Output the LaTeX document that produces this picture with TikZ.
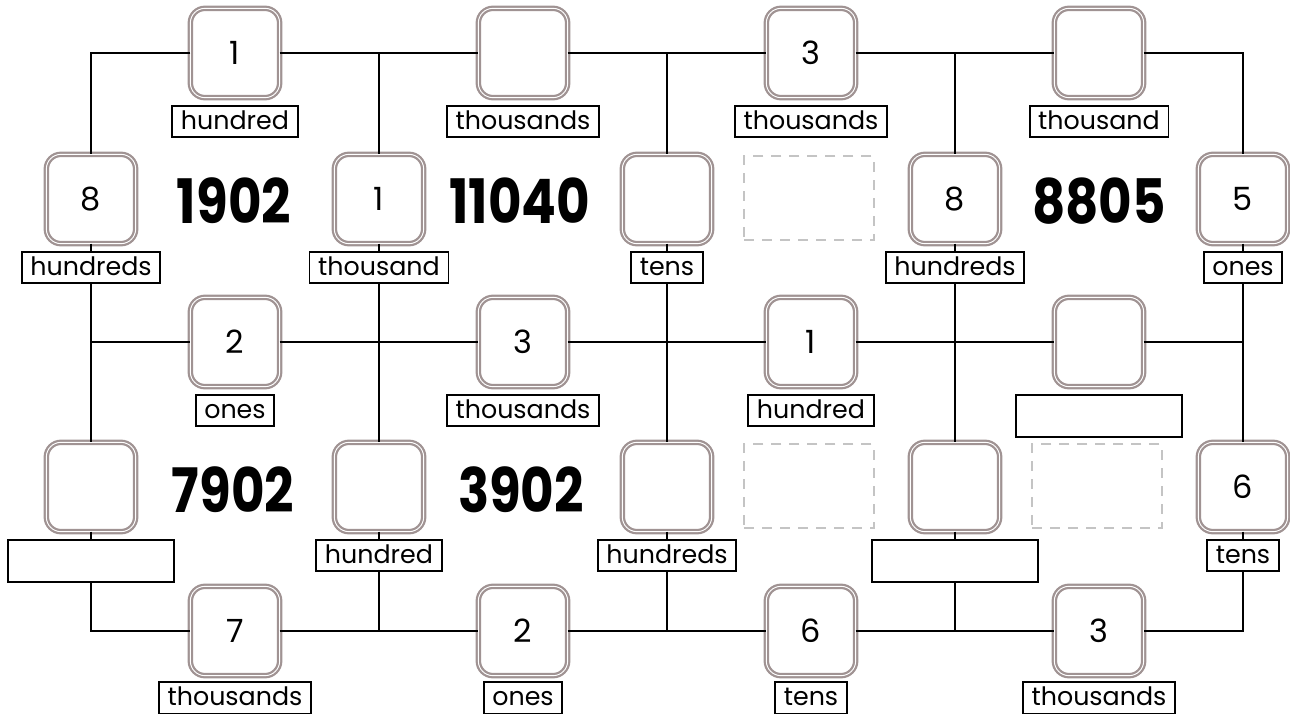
\documentclass[tikz,border=0pt]{standalone}
\usepackage{fontspec}
\setmainfont{Poppins}
\usetikzlibrary{positioning}
\definecolor{boxgray}{RGB}{160,147,147}
\definecolor{dashgray}{RGB}{196,196,196}
\newcommand{\bignum}[1]{\scalebox{0.84}[1]{#1}}

\begin{document}
\begin{tikzpicture}[x=0.75pt,y=-0.75pt,
  digit/.style={draw=boxgray,double=white,line width=1.7pt,double distance=0.7pt,
    rounded corners=11pt,fill=white,minimum size=67pt,inner sep=0pt,outer sep=0pt,
    font=\fontsize{24}{24}\selectfont},
  word/.style={draw,line width=1.4pt,fill=white,inner xsep=6.5pt,inner ysep=0pt,
    outer sep=0pt,minimum height=23.4pt,text height=14pt,text depth=2pt,
    font=\fontsize{19}{19}\selectfont},
  blank/.style={word,minimum width=125pt,minimum height=31.5pt},
  gap/.style={draw=dashgray,line width=1.5pt,dash pattern=on 7.5pt off 6pt,
    minimum width=97.5pt,minimum height=62.5pt},
  number/.style={font=\fontsize{46}{46}\selectfont\bfseries,inner sep=0pt},
  grid/.style={line width=1.5pt}]
\useasboundingbox (0,0) rectangle (1290,717);
% top row
\node[digit] (a1) at (235,53) {1};
\node[word,below=6pt of a1] (a1w) {hundred};
\node[digit] (a2) at (523,53) {};
\node[word,below=6pt of a2] (a2w) {thousands};
\node[digit] (a3) at (811,53) {3};
\node[word,below=6pt of a3] (a3w) {thousands};
\node[digit] (a4) at (1099,53) {};
\node[word,below=6pt of a4] (a4w) {thousand};
% second row
\node[digit] (b0) at (91,199) {8};
\node[word,below=6pt of b0] (b0w) {hundreds};
\node[digit] (b1) at (379,199) {1};
\node[word,below=6pt of b1] (b1w) {thousand};
\node[digit] (b2) at (667,199) {};
\node[word,below=6pt of b2] (b2w) {tens};
\node[digit] (b3) at (955,199) {8};
\node[word,below=6pt of b3] (b3w) {hundreds};
\node[digit] (b4) at (1243,199) {5};
\node[word,below=6pt of b4] (b4w) {ones};
\node[number] (numB1) at (234,201) {\bignum{1902}};
\node[number] (numB2) at (520,201) {\bignum{11040}};
\node[gap] (gapB3) at (809,198) {};
\node[number] (numB4) at (1099,201) {\bignum{8805}};
% middle row
\node[digit] (c1) at (235,342) {2};
\node[word,below=6pt of c1] (c1w) {ones};
\node[digit] (c2) at (523,342) {3};
\node[word,below=6pt of c2] (c2w) {thousands};
\node[digit] (c3) at (811,342) {1};
\node[word,below=6pt of c3] (c3w) {hundred};
\node[digit] (c4) at (1099,342) {};
\node[blank,below=6pt of c4] (c4w) {};
% fourth row
\node[digit] (d0) at (91,487) {};
\node[blank,below=6pt of d0] (d0w) {};
\node[digit] (d1) at (379,487) {};
\node[word,below=6pt of d1] (d1w) {hundred};
\node[digit] (d2) at (667,487) {};
\node[word,below=6pt of d2] (d2w) {hundreds};
\node[digit] (d3) at (955,487) {};
\node[blank,below=6pt of d3] (d3w) {};
\node[digit] (d4) at (1243,487) {6};
\node[word,below=6pt of d4] (d4w) {tens};
\node[number] (numD1) at (233,490) {\bignum{7902}};
\node[number] (numD2) at (521,490) {\bignum{3902}};
\node[gap] (gapD3) at (809,486) {};
\node[gap] (gapD4) at (1097,486) {};
% bottom row
\node[digit] (e1) at (235,631) {7};
\node[word,below=5pt of e1] (e1w) {thousands};
\node[digit] (e2) at (523,631) {2};
\node[word,below=5pt of e2] (e2w) {ones};
\node[digit] (e3) at (811,631) {6};
\node[word,below=5pt of e3] (e3w) {tens};
\node[digit] (e4) at (1099,631) {3};
\node[word,below=5pt of e4] (e4w) {thousands};
% grid corners and junctions
\coordinate (tl) at (91,53);
\coordinate (tr) at (1243,53);
\coordinate (ml) at (91,342);
\coordinate (mr) at (1243,342);
\coordinate (bl) at (91,631);
\coordinate (br) at (1243,631);
\coordinate (t1) at (379,53);
\coordinate (t2) at (667,53);
\coordinate (t3) at (955,53);
\coordinate (u1) at (379,631);
\coordinate (u2) at (667,631);
\coordinate (u3) at (955,631);
\draw[grid] (a1) -- (tl) -- (b0) -- (b0w) -- (d0) -- (d0w) -- (bl) -- (e1);
\draw[grid] (a4) -- (tr) -- (b4) -- (b4w) -- (d4) -- (d4w) -- (br) -- (e4);
\draw[grid] (a1) -- (a2) -- (a3) -- (a4);
\draw[grid] (ml) -- (c1) -- (c2) -- (c3) -- (c4) -- (mr);
\draw[grid] (e1) -- (e2) -- (e3) -- (e4);
\draw[grid] (t1) -- (b1) -- (b1w) -- (d1) -- (d1w) -- (u1);
\draw[grid] (t2) -- (b2) -- (b2w) -- (d2) -- (d2w) -- (u2);
\draw[grid] (t3) -- (b3) -- (b3w) -- (d3) -- (d3w) -- (u3);
\end{tikzpicture}
\end{document}
